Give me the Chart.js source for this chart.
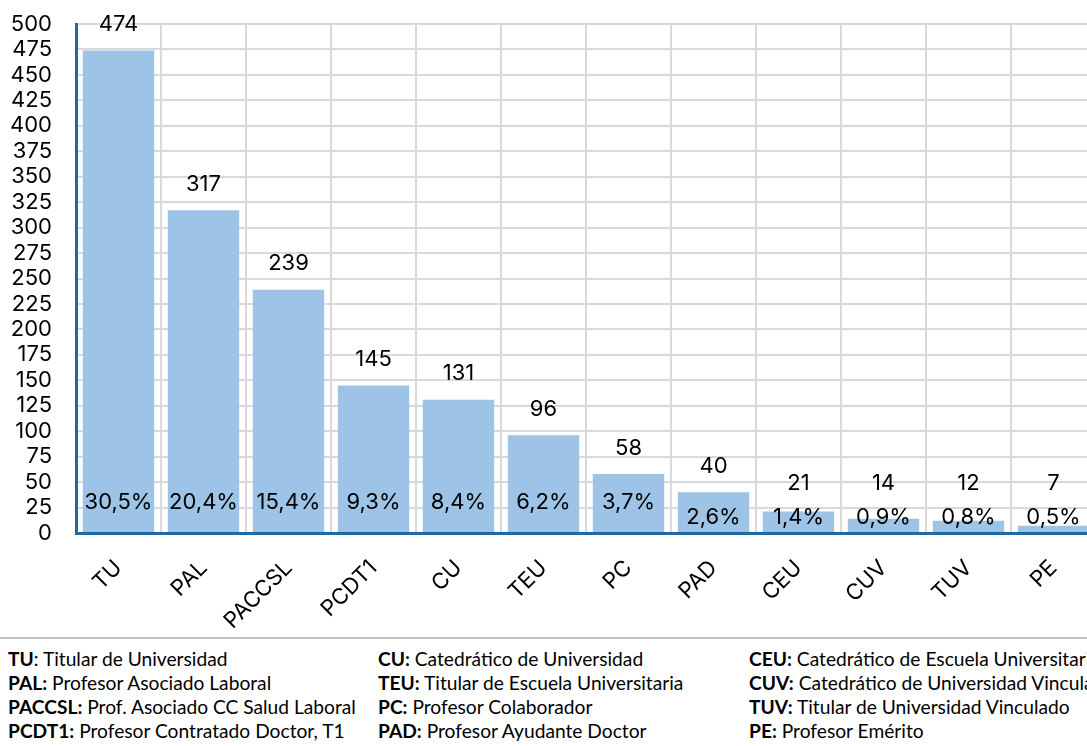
<!DOCTYPE html>
<html lang="es">
<head>
<meta charset="utf-8">
<script src="https://cdn.jsdelivr.net/npm/chart.js@4"></script>
<style>
    body {
        margin: 0;
        overflow: hidden;
        background: #fff;
        width: 1087px;
        height: 746px;
    }

    #grafico {
        display: block;
    }

    .separador {
        position: absolute;
        left: 0;
        top: 637px;
        width: 1087px;
        height: 2px;
        background: #bfbfbf;
    }

    .leyenda {
        position: absolute;
        top: 647px;
        font-family: Lato, 'Liberation Sans', sans-serif;
        font-size: 19.2px;
        line-height: 24px;
        color: #000;
        white-space: nowrap;
    }

    .leyenda b {
        font-weight: 700;
    }
</style>
</head>
<body>

<canvas id="grafico" width="1100" height="640"></canvas>

<div class="separador"></div>

<div class="leyenda" style="left: 8px;">
    <div><b>TU</b>: Titular de Universidad</div>
    <div><b>PAL:</b> Profesor Asociado Laboral</div>
    <div><b>PACCSL:</b> Prof. Asociado CC Salud Laboral</div>
    <div><b>PCDT1:</b> Profesor Contratado Doctor, T1</div>
</div>

<div class="leyenda" style="left: 378px;">
    <div><b>CU:</b> Catedrático de Universidad</div>
    <div><b>TEU:</b> Titular de Escuela Universitaria</div>
    <div><b>PC:</b> Profesor Colaborador</div>
    <div><b>PAD:</b> Profesor Ayudante Doctor</div>
</div>

<div class="leyenda" style="left: 749px;">
    <div><b>CEU:</b> Catedrático de Escuela Universitaria</div>
    <div><b>CUV:</b> Catedrático de Universidad Vinculado</div>
    <div><b>TUV:</b> Titular de Universidad Vinculado</div>
    <div><b>PE:</b> Profesor Emérito</div>
</div>

<script>

// DATOS
const categorias = [
    'TU', 'PAL', 'PACCSL', 'PCDT1',
    'CU', 'TEU', 'PC', 'PAD',
    'CEU', 'CUV', 'TUV', 'PE'
];

const profesores = [
    474, 317, 239, 145,
    131, 96, 58, 40,
    21, 14, 12, 7
];

const porcentajes = [
    30.5, 20.4, 15.4, 9.3,
    8.4, 6.2, 3.7, 2.6,
    1.4, 0.9, 0.8, 0.5
];

const ticksY = [
    0, 25, 50, 75, 100, 125, 150, 175, 200, 225,
    250, 275, 300, 325, 350, 375, 400, 425, 450, 475, 500
];

const fuente = 'Inter, Lato, sans-serif';

// ETIQUETAS
const etiquetas = {

    id: 'etiquetas',

    afterDatasetsDraw(chart) {

        const ctx = chart.ctx;
        const escalaY = chart.scales.y;
        const base = escalaY.getPixelForValue(0);
        const barras = chart.getDatasetMeta(0).data;

        ctx.save();
        ctx.fillStyle = '#000';
        ctx.textAlign = 'center';
        ctx.textBaseline = 'middle';
        ctx.font = '22px ' + fuente;

        barras.forEach((barra, i) => {

            const pctY =
                profesores[i] > 50
                    ? base - 31
                    : base - 16;

            const numY = Math.min(
                barra.y - 26,
                pctY - 34
            );

            ctx.fillText(
                String(profesores[i]),
                barra.x,
                numY
            );

            ctx.fillText(
                porcentajes[i].toFixed(1).replace('.', ',') + '%',
                barra.x,
                pctY
            );
        });

        ctx.restore();
    }
};

new Chart(

    document.getElementById(
        'grafico'
    ),

    {
        type: 'bar',

        data: {

            labels: categorias,

            datasets: [{

                data: profesores,

                backgroundColor: '#9dc3e6',

                borderWidth: 0,

                categoryPercentage: 0.84,

                barPercentage: 1
            }]
        },

        options: {

            responsive: false,

            animation: false,

            layout: {
                padding: {
                    top: 24,
                    right: 4,
                    left: 0,
                    bottom: 0
                }
            },

            plugins: {

                legend: {
                    display: false
                },

                tooltip: {
                    enabled: false
                }
            },

            scales: {

                x: {

                    grid: {
                        color: '#d9d9d9',
                        lineWidth: 2,
                        drawTicks: false
                    },

                    border: {
                        color: '#1f6aa5',
                        width: 3
                    },

                    ticks: {
                        color: '#000',
                        font: {
                            family: fuente,
                            size: 22
                        },
                        minRotation: 45,
                        maxRotation: 45,
                        padding: 22
                    },

                    afterFit(escala) {
                        escala.height = 107;
                        escala.paddingLeft = 0;
                        escala.paddingRight = 0;
                    }
                },

                y: {

                    min: 0,
                    max: 500,

                    afterBuildTicks(escala) {
                        escala.ticks = ticksY.map(v => ({ value: v }));
                    },

                    grid: {
                        color: '#d9d9d9',
                        lineWidth: 2,
                        drawTicks: false
                    },

                    border: {
                        color: '#1f6aa5',
                        width: 3
                    },

                    ticks: {
                        color: '#000',
                        autoSkip: false,
                        font: {
                            family: fuente,
                            size: 22
                        },
                        padding: 24
                    },

                    afterFit(escala) {
                        escala.width = 76;
                        escala.paddingTop = 0;
                        escala.paddingBottom = 0;
                    }
                }
            }
        },

        plugins: [etiquetas]
    }
);

</script>
</body>
</html>
